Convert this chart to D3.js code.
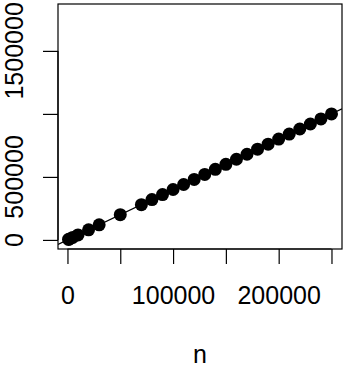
<!DOCTYPE html>
<html>
<head>
<meta charset="utf-8">
<script src="https://cdn.jsdelivr.net/npm/d3@7"></script>
<style>
    body { margin: 0; background: #fff; }
    svg { display: block; }
    text { font-family: "Liberation Sans", Arial, Helvetica, sans-serif; fill: #000; }
</style>
</head>
<body>
<div id="chart"></div>
<script>
// values
const nValues = [1000, 2000, 5000, 10000, 20000, 30000, 50000,
    70000, 80000, 90000, 100000, 110000, 120000, 130000, 140000, 150000,
    160000, 170000, 180000, 190000, 200000, 210000, 220000, 230000, 240000, 250000];
const yValues = [4000, 8000, 20000, 40000, 80000, 120000, 200000,
    280000, 320000, 360000, 400000, 440000, 480000, 520000, 560000, 600000,
    640000, 680000, 720000, 760000, 800000, 840000, 880000, 920000, 960000, 1000000];

const xTicks = [0, 50000, 100000, 150000, 200000, 250000];
const xTickLabels = ['0', '', '100000', '', '200000', ''];
const yTicks = [0, 500000, 1000000, 1500000];
const yTickLabels = ['0', '500000', '', '1500000'];

const fitLine = { intercept: 0, slope: 4 };
const xLimits = [1000, 250000];
const yLimits = [0, 1800000];

window.onload = function() {
    drawChart();
};

function pad(lim) {
    const d = (lim[1] - lim[0]) * 0.04;
    return [lim[0] - d, lim[1] + d];
}

function drawChart() {
    const width = 357;
    const height = 374;
    const box = { left: 58, right: 342, top: 4, bottom: 249 };
    const fontSize = 25;

    const svg = d3.select('#chart').append('svg')
        .attr('width', width)
        .attr('height', height);

    const x = d3.scaleLinear().domain(pad(xLimits)).range([box.left, box.right]);
    const y = d3.scaleLinear().domain(pad(yLimits)).range([box.bottom, box.top]);

    svg.append('defs').append('clipPath')
        .attr('id', 'plot-clip')
        .append('rect')
        .attr('x', box.left)
        .attr('y', box.top)
        .attr('width', box.right - box.left)
        .attr('height', box.bottom - box.top);

    // fitted line, clipped to the plot region
    const xd = x.domain();
    svg.append('line')
        .attr('clip-path', 'url(#plot-clip)')
        .attr('x1', x(xd[0]))
        .attr('y1', y(fitLine.intercept + fitLine.slope * xd[0]))
        .attr('x2', x(xd[1]))
        .attr('y2', y(fitLine.intercept + fitLine.slope * xd[1]))
        .attr('stroke', '#000')
        .attr('stroke-width', 1.2);

    svg.selectAll('.pt')
        .data(nValues)
        .enter().append('circle')
        .attr('class', 'pt')
        .attr('cx', d => x(d))
        .attr('cy', (d, i) => y(yValues[i]))
        .attr('r', 6.5)
        .attr('fill', '#000');

    // box
    svg.append('rect')
        .attr('x', box.left)
        .attr('y', box.top)
        .attr('width', box.right - box.left)
        .attr('height', box.bottom - box.top)
        .attr('fill', 'none')
        .attr('stroke', '#000')
        .attr('stroke-width', 1.2);

    // x axis
    const xAxis = d3.axisBottom(x)
        .tickValues(xTicks)
        .tickSize(15)
        .tickPadding(22)
        .tickFormat((d, i) => xTickLabels[i]);
    const gx = svg.append('g')
        .attr('transform', `translate(0,${box.bottom})`)
        .call(xAxis);
    gx.select('.domain').attr('d', `M${x(xTicks[0])},0H${x(xTicks[xTicks.length - 1])}`)
        .attr('stroke-width', 1.2);
    gx.selectAll('.tick line').attr('stroke-width', 1.2);
    gx.selectAll('.tick text')
        .attr('font-size', fontSize)
        .attr('font-family', '"Liberation Sans", Arial, sans-serif')
        .attr('fill', '#000');

    // y axis
    const yAxis = d3.axisLeft(y)
        .tickValues(yTicks)
        .tickSize(15)
        .tickFormat('');
    const gy = svg.append('g')
        .attr('transform', `translate(${box.left},0)`)
        .call(yAxis);
    gy.select('.domain').attr('d', `M0,${y(yTicks[0])}V${y(yTicks[yTicks.length - 1])}`)
        .attr('stroke-width', 1.2);
    gy.selectAll('.tick line').attr('stroke-width', 1.2);

    svg.selectAll('.ylab')
        .data(yTicks)
        .enter().append('text')
        .attr('class', 'ylab')
        .attr('transform', d => `translate(23,${y(d)}) rotate(-90)`)
        .attr('text-anchor', 'middle')
        .attr('font-size', fontSize)
        .text((d, i) => yTickLabels[i]);

    svg.append('text')
        .attr('x', (box.left + box.right) / 2)
        .attr('y', 363)
        .attr('text-anchor', 'middle')
        .attr('font-size', fontSize)
        .text('n');
}
</script>
</body>
</html>
